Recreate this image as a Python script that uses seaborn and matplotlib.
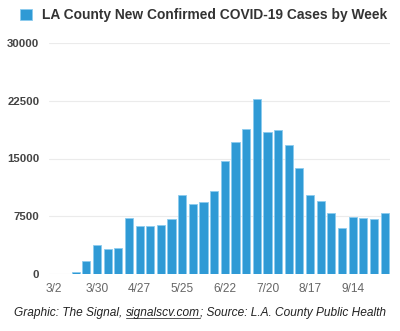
import matplotlib
matplotlib.use("Agg")
import matplotlib.pyplot as plt
import seaborn as sns
import pandas as pd

# Weekly new confirmed COVID-19 cases, LA County (week starting)
weeks = ["3/2", "3/9", "3/16", "3/23", "3/30", "4/6", "4/13", "4/20",
         "4/27", "5/4", "5/11", "5/18", "5/25", "6/1", "6/8", "6/15",
         "6/22", "6/29", "7/6", "7/13", "7/20", "7/27", "8/3", "8/10",
         "8/17", "8/24", "8/31", "9/7", "9/14", "9/21", "9/28", "10/5"]
cases = [0, 0, 340, 1760, 3800, 3280, 3370, 7330,
         6300, 6210, 6430, 7200, 10270, 9140, 9400, 10830,
         14710, 17130, 18820, 22700, 18470, 18690, 16740, 13730,
         10270, 9490, 7940, 5950, 7460, 7330, 7120, 7900]
y_ticks = [0, 7500, 15000, 22500, 30000]
title = "LA County New Confirmed COVID-19 Cases by Week"

df = pd.DataFrame({"week": weeks, "cases": cases})

sns.set_theme(style="white")
plt.rcParams["font.family"] = ["Liberation Sans", "DejaVu Sans"]

bar_color = "#2F9AD5"
fig = plt.figure(figsize=(4.0, 3.31), dpi=100)
ax = fig.add_axes([49 / 400, 1 - 274.3 / 331, 341 / 400, 231.6 / 331])

sns.barplot(data=df, x="week", y="cases", color=bar_color, width=0.76,
            saturation=1, edgecolor="#8CCBEE", linewidth=0.6, ax=ax,
            label=title, zorder=3)
if ax.get_legend() is not None:
    ax.get_legend().remove()

ax.set_xlim(-0.5, len(weeks) - 0.5)
ax.set_ylim(0, 30000)
ax.set_yticks(y_ticks)
ax.set_yticklabels([str(t) for t in y_ticks], fontsize=8.2,
                   fontweight="bold", color="#444444")
tick_pos = list(range(0, len(weeks), 4))
ax.set_xticks(tick_pos)
ax.set_xticklabels([weeks[i] for i in tick_pos], fontsize=8.6,
                   color="#666666")
ax.tick_params(axis="both", length=0)
ax.tick_params(axis="y", pad=7)
ax.tick_params(axis="x", pad=6)
ax.set_xlabel("")
ax.set_ylabel("")
ax.yaxis.grid(True, color="#EBEBEB", linewidth=0.8, zorder=0)
ax.xaxis.grid(False)
for s in ax.spines.values():
    s.set_visible(False)

handles, labels = ax.get_legend_handles_labels()
leg = fig.legend(handles[:1], labels[:1], loc="center",
                 bbox_to_anchor=(204 / 400, 1 - 15 / 331),
                 frameon=False, handlelength=0.85, handleheight=0.85,
                 handletextpad=0.75,
                 prop={"size": 9.9, "weight": "bold"})
for t in leg.get_texts():
    t.set_color("#333333")

# Credit line with underlined link
fig.canvas.draw()
renderer = fig.canvas.get_renderer()
parts = ["Graphic: The Signal, ", "signalscv.com", "; Source: L.A. County Public Health"]
kw = dict(fontsize=8.6, style="italic", color="#222222", va="baseline")
texts = [fig.text(0, 0, p, **kw) for p in parts]
widths = [t.get_window_extent(renderer).width for t in texts]
x0 = (400 - sum(widths)) / 2
y_base = 331 - 316
x = x0
for t, w in zip(texts, widths):
    t.set_position((x / 400, y_base / 331))
    x += w
ux0 = x0 + widths[0]
fig.add_artist(plt.Line2D([ux0 / 400, (ux0 + widths[1]) / 400],
                          [(y_base - 2) / 331] * 2, color="#555555",
                          linewidth=0.7))

fig.savefig("out.png", dpi=100)
